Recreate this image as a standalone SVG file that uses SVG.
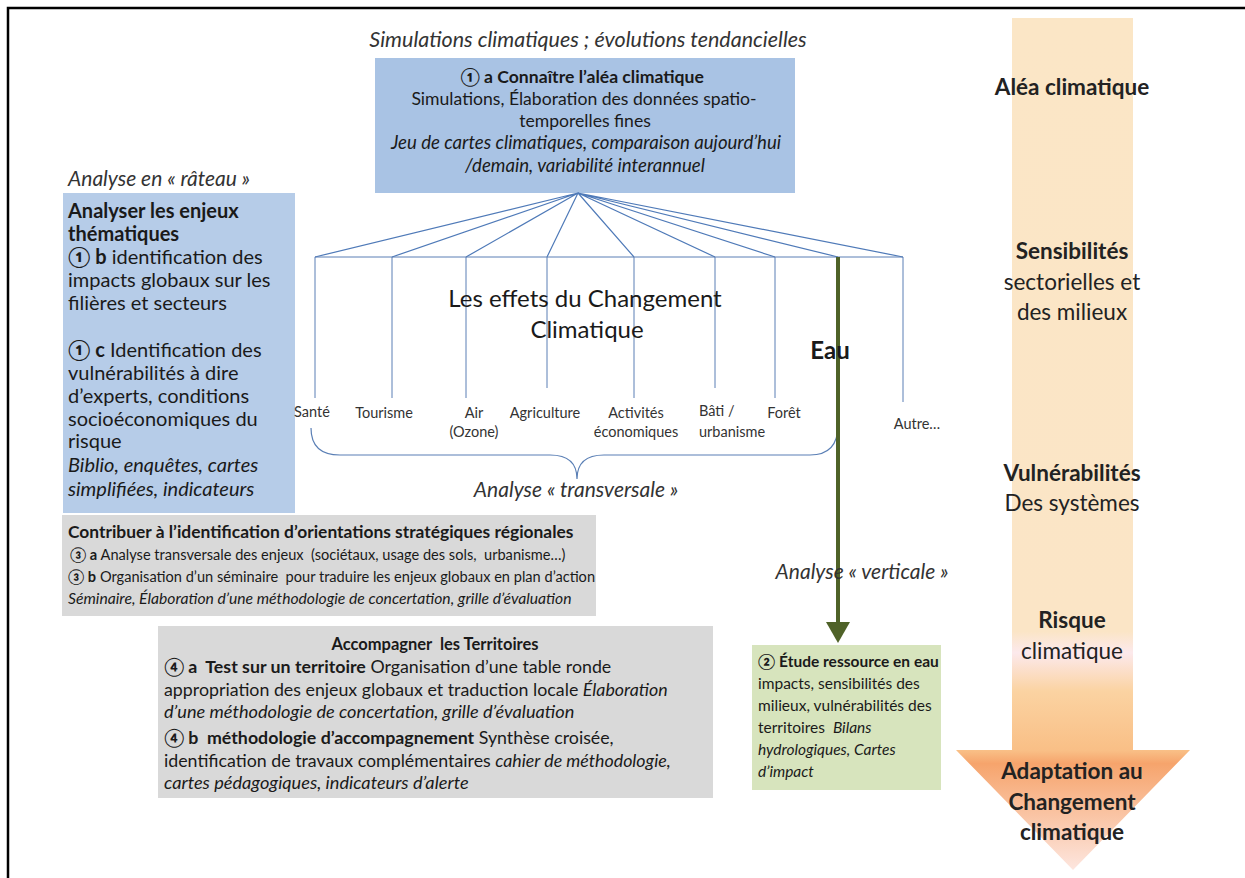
<svg xmlns="http://www.w3.org/2000/svg" width="1245" height="878" viewBox="0 0 1245 878">
<style>
text{font-family:Lato,"Liberation Sans",sans-serif;fill:#1a1a1a}
.it{font-style:italic}
.b{font-weight:bold}
.cap{font-style:italic;fill:#333}
.top{font-size:17.6px}
.topi{font-size:18.6px;font-style:italic}
.lft{font-size:20px}
.lfti{font-size:20px;font-style:italic}
.g1{font-size:14.6px}
.g1b{font-size:17.4px;font-weight:bold}
.g1i{font-size:15.7px;font-style:italic}
.g2{font-size:17.8px}
.g2i{font-size:18.2px;font-style:italic}
.grn{font-size:15.5px}
.lab{font-size:14.5px;fill:#333}
.arr{font-size:22.5px;fill:#222;text-anchor:middle}
.fan{stroke:#4f7ab8;stroke-width:1.2;fill:none}
.vert{stroke:#5a7fb5;stroke-width:1;fill:none}
</style>
<defs>
<linearGradient id="ag" gradientUnits="userSpaceOnUse" x1="0" y1="18" x2="0" y2="870">
<stop offset="0" stop-color="#fbe6c6"/>
<stop offset="0.72" stop-color="#fbe5c6"/>
<stop offset="0.745" stop-color="#fce9ec"/>
<stop offset="0.79" stop-color="#fbd3a2"/>
<stop offset="0.86" stop-color="#f9bf86"/>
<stop offset="0.875" stop-color="#f6a46c"/>
<stop offset="1" stop-color="#fde6df"/>
</linearGradient>
</defs>
<rect x="0" y="0" width="1245" height="878" fill="#fff"/>
<path d="M8,878 V8 H1245" fill="none" stroke="#000" stroke-width="2.5"/>

<g id="arrow-right">
<path d="M1012,18 H1133 V750 H1190 L1073,870 L956,750 H1012 Z" fill="url(#ag)"/>
<text class="arr b" x="1072" y="95">Aléa climatique</text>
<text class="arr b" x="1072" y="259">Sensibilités</text>
<text class="arr" x="1072" y="290">sectorielles et</text>
<text class="arr" x="1072" y="320">des milieux</text>
<text class="arr b" x="1072" y="481">Vulnérabilités</text>
<text class="arr" x="1072" y="511">Des systèmes</text>
<text class="arr b" x="1072" y="628">Risque</text>
<text class="arr" x="1072" y="659">climatique</text>
<text class="arr b" x="1072" y="779">Adaptation au</text>
<text class="arr b" x="1072" y="810">Changement</text>
<text class="arr b" x="1072" y="840">climatique</text>
</g>

<text class="cap" x="588" y="47" text-anchor="middle" style="font-size:21.5px">Simulations climatiques ; évolutions tendancielles</text>

<g id="node-alea">
<rect x="375" y="58" width="420" height="135" fill="#a9c3e4"/>
<text class="top b" text-anchor="middle" x="582" y="83">① a Connaître l’aléa climatique</text>
<text class="top" text-anchor="middle" x="584" y="105">Simulations, Élaboration des données spatio-</text>
<text class="top" text-anchor="middle" x="585" y="127">temporelles fines</text>
<text class="topi" text-anchor="middle" x="586" y="149">Jeu de cartes climatiques, comparaison aujourd’hui</text>
<text class="topi" text-anchor="middle" x="585" y="172">/demain, variabilité interannuel</text>
</g>

<text class="cap" x="68" y="186" style="font-size:21px">Analyse en « râteau »</text>

<g id="node-enjeux">
<rect x="63" y="193" width="232" height="320" fill="#b6cce8"/>
<text class="lft b" x="68" y="218">Analyser les enjeux</text>
<text class="lft b" x="68" y="241">thématiques</text>
<text class="lft" x="68" y="264"><tspan class="b">① b</tspan> identification des</text>
<text class="lft" x="68" y="287">impacts globaux sur les</text>
<text class="lft" x="68" y="310">filières et secteurs</text>
<text class="lft" x="68" y="357"><tspan class="b">① c</tspan> Identification des</text>
<text class="lft" x="68" y="380">vulnérabilités à dire</text>
<text class="lft" x="68" y="403">d’experts, conditions</text>
<text class="lft" x="68" y="426">socioéconomiques du</text>
<text class="lft" x="68" y="448">risque</text>
<text class="lfti" x="68" y="472">Biblio, enquêtes, cartes</text>
<text class="lfti" x="68" y="496">simplifiées, indicateurs</text>
</g>

<g id="connectors">
<path class="fan" d="M578,193 L315,257 M578,193 L392,257 M578,193 L466,257 M578,193 L547,257 M578,193 L634,257 M578,193 L715,257 M578,193 L775,257 M578,193 L838,257 M578,193 L903,257"/>
<path class="vert" d="M315,257 H903 M315,257 V398 M392,257 V398 M466,257 V398 M547,257 V388 M634,257 V398 M715,257 V388 M775,257 V398 M903,257 V402"/>
<path d="M311,428 Q311,455 340,455 L550,455 Q577,455 577,479 Q577,455 604,455 L810,455 Q838,455 838,425" fill="none" stroke="#5a7fb5" stroke-width="1.2"/>
<line x1="838" y1="257" x2="838" y2="624" stroke="#4f6228" stroke-width="4"/>
<polygon points="826,622 850,622 838,643" fill="#4f6228"/>
</g>

<g id="labels-center">
<text x="585" y="307" text-anchor="middle" style="font-size:24px">Les effets du Changement</text>
<text x="587" y="338" text-anchor="middle" style="font-size:24px">Climatique</text>
<text x="830" y="359" text-anchor="middle" class="b" style="font-size:24px">Eau</text>
<text class="lab" x="312" y="417" text-anchor="middle">Santé</text>
<text class="lab" x="384" y="418" text-anchor="middle">Tourisme</text>
<text class="lab" x="474" y="418" text-anchor="middle">Air</text>
<text class="lab" x="474" y="437" text-anchor="middle">(Ozone)</text>
<text class="lab" x="545" y="418" text-anchor="middle">Agriculture</text>
<text class="lab" x="636" y="418" text-anchor="middle">Activités</text>
<text class="lab" x="636" y="437" text-anchor="middle">économiques</text>
<text class="lab" x="699" y="416">Bâti /</text>
<text class="lab" x="699" y="437">urbanisme</text>
<text class="lab" x="784" y="418" text-anchor="middle">Forêt</text>
<text class="lab" x="917" y="429" text-anchor="middle">Autre…</text>
<text class="cap" x="576" y="497" text-anchor="middle" style="font-size:21px">Analyse « transversale »</text>
<text class="cap" x="862" y="579" text-anchor="middle" style="font-size:21px">Analyse « verticale »</text>
</g>

<g id="node-orientations">
<rect x="62" y="515" width="534" height="101" fill="#d9d9d9"/>
<text class="g1b" x="68" y="538">Contribuer à l’identification d’orientations stratégiques  régionales</text>
<text class="g1" x="70" y="560" xml:space="preserve"><tspan class="b">③ a</tspan> Analyse transversale des enjeux  (sociétaux, usage des sols,  urbanisme…)</text>
<text class="g1" x="68" y="582" xml:space="preserve"><tspan class="b">③ b</tspan> Organisation d’un séminaire  pour traduire les enjeux globaux en plan d’action</text>
<text class="g1i" x="68" y="604">Séminaire, Élaboration d’une méthodologie de concertation, grille d’évaluation</text>
</g>

<g id="node-territoires">
<rect x="158" y="626" width="555" height="172" fill="#d9d9d9"/>
<text class="b" x="435" y="650" text-anchor="middle" style="font-size:16.5px" xml:space="preserve">Accompagner  les Territoires</text>
<text class="g2" x="164" y="673" xml:space="preserve"><tspan class="b">④ a  Test sur un territoire</tspan> Organisation d’une table ronde</text>
<text class="g2" x="164" y="696">appropriation des enjeux globaux et traduction locale <tspan class="it">Élaboration</tspan></text>
<text class="g2i" x="164" y="718">d’une méthodologie de concertation, grille d’évaluation</text>
<text class="g2" x="164" y="744" xml:space="preserve"><tspan class="b">④ b  méthodologie d’accompagnement</tspan> Synthèse croisée,</text>
<text class="g2" x="164" y="767">identification de travaux complémentaires <tspan class="it">cahier de méthodologie,</tspan></text>
<text class="g2i" x="164" y="789">cartes pédagogiques, indicateurs d’alerte</text>
</g>

<g id="node-eau">
<rect x="752" y="645" width="189" height="145" fill="#d7e4bd"/>
<text class="grn b" x="758" y="667">② Étude ressource en eau</text>
<text class="grn" x="758" y="689">impacts, sensibilités des</text>
<text class="grn" x="758" y="711">milieux, vulnérabilités des</text>
<text class="grn" x="758" y="733" xml:space="preserve">territoires  <tspan class="it">Bilans</tspan></text>
<text class="grn it" x="758" y="755">hydrologiques, Cartes</text>
<text class="grn it" x="758" y="777">d’impact</text>
</g>
</svg>
